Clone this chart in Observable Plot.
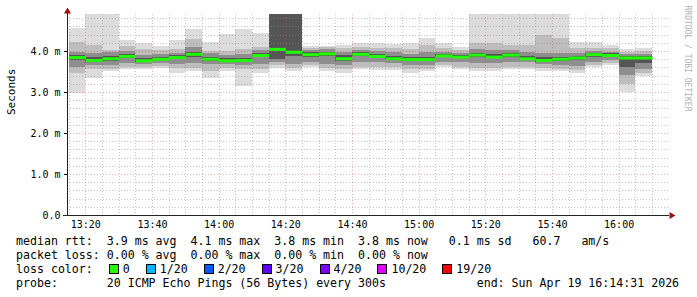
<!DOCTYPE html>
<html><head><meta charset="utf-8">
<script src="https://cdn.jsdelivr.net/npm/d3@7"></script>
<script src="https://cdn.jsdelivr.net/npm/@observablehq/plot@0.6"></script>
<style>
html,body{margin:0;padding:0;background:#fff;}
#wrap{position:relative;width:697px;height:297px;overflow:hidden;}
#chart{position:absolute;left:0;top:0;}
#legend{position:absolute;left:16px;top:234px;font-family:"DejaVu Sans Mono",monospace;font-size:11.6px;line-height:14px;white-space:pre;color:#000;}
.sq{display:inline-block;width:8px;height:8px;border:1px solid #000;vertical-align:-1px;margin-right:4px;}
.it{margin-right:16px;}
</style></head>
<body><div id="wrap"><div id="chart"></div><div id="legend"></div></div>
<script>
// ---- data (ms) ----
const barStart = ["13:15","13:20","13:25","13:30","13:35","13:40","13:45","13:50","13:55","14:00",
  "14:05","14:10","14:15","14:20","14:25","14:30","14:35","14:40","14:45","14:50",
  "14:55","15:00","15:05","15:10","15:15","15:20","15:25","15:30","15:35","15:40",
  "15:45","15:50","15:55","16:00","16:05"];
const rttMin = [2.97,3.33,3.52,3.55,3.55,3.58,3.47,3.51,3.35,3.50,3.15,3.46,3.58,3.52,3.60,3.51,3.47,3.55,3.54,3.54,3.47,3.50,3.60,3.56,3.51,3.51,3.55,3.55,3.51,3.51,3.47,3.62,3.66,3.01,3.40];
const rttP10 = [3.45,3.55,3.56,3.62,3.60,3.63,3.58,3.58,3.52,3.58,3.55,3.56,3.65,3.58,3.66,3.58,3.55,3.62,3.62,3.60,3.55,3.56,3.66,3.62,3.58,3.58,3.62,3.62,3.58,3.56,3.53,3.66,3.70,3.20,3.46];
const rttP25 = [3.62,3.65,3.66,3.70,3.68,3.70,3.68,3.70,3.67,3.68,3.66,3.68,3.74,3.68,3.74,3.68,3.66,3.72,3.72,3.70,3.66,3.66,3.74,3.72,3.70,3.70,3.72,3.72,3.68,3.66,3.64,3.74,3.78,3.41,3.56];
const rttP40 = [3.78,3.74,3.76,3.82,3.73,3.77,3.80,3.86,3.76,3.74,3.74,3.84,3.80,3.88,3.86,3.88,3.76,3.88,3.84,3.78,3.76,3.76,3.85,3.82,3.86,3.82,3.86,3.78,3.74,3.76,3.78,3.86,3.86,3.60,3.70];
const rttMedian = [3.85,3.78,3.82,3.88,3.77,3.81,3.85,3.93,3.81,3.77,3.78,3.90,4.05,3.98,3.92,3.94,3.82,3.93,3.88,3.82,3.80,3.80,3.89,3.86,3.91,3.86,3.91,3.82,3.78,3.81,3.84,3.92,3.90,3.84,3.84];
const rttP60 = [3.90,3.85,3.88,3.93,3.82,3.86,3.89,3.98,3.86,3.82,3.83,3.94,5.20,5.20,3.97,3.98,3.90,3.97,3.92,3.88,3.84,3.86,3.93,3.90,3.96,3.92,3.95,3.88,3.84,3.86,3.88,3.96,3.94,3.88,3.88];
const rttP75 = [3.98,3.95,3.97,4.00,3.90,3.92,3.96,4.10,3.94,3.90,3.92,4.02,5.20,5.20,4.02,4.04,3.98,4.03,3.99,3.97,3.92,3.97,3.98,3.96,4.05,4.02,4.02,3.98,3.96,3.96,3.95,4.00,3.98,3.92,3.93];
const rttP90 = [4.22,4.15,4.03,4.12,4.05,4.02,4.05,4.30,4.00,4.00,4.05,4.10,5.20,5.20,4.07,4.09,4.08,4.10,4.08,4.08,4.05,4.15,4.06,4.03,4.20,4.20,4.15,4.15,4.40,4.32,4.08,4.08,4.06,3.98,4.00];
const rttMax = [4.57,5.20,5.20,4.27,4.19,4.12,4.27,4.54,4.21,4.41,4.54,4.43,5.20,5.20,4.11,4.13,4.15,4.19,4.19,4.17,4.19,4.32,4.20,4.09,5.20,5.20,5.20,5.20,5.20,5.20,4.21,4.21,4.15,4.04,4.07];

const yTicks = [0, 1, 2, 3, 4];
const yMinorTicks = [0.2,0.4,0.6,0.8,1.2,1.4,1.6,1.8,2.2,2.4,2.6,2.8,3.2,3.4,3.6,3.8,4.2,4.4,4.6,4.8];
const xTickLabels = ["13:20","13:40","14:00","14:20","14:40","15:00","15:20","15:40","16:00"];
const xDomainLabels = ["13:14:31","16:14:31"];

const legendRtt = "median rtt:  3.9 ms avg  4.1 ms max  3.8 ms min  3.8 ms now   0.1 ms sd   60.7   am/s";
const legendLoss = "packet loss: 0.00 % avg  0.00 % max  0.00 % min  0.00 % now";
const lossTitle = "loss color:  ";
const lossLabels = ["0","1/20","2/20","3/20","4/20","10/20","19/20"];
const lossColors = ["#26ff00","#00b8ff","#0059ff","#5e00ff","#7e00ff","#dd00ff","#ff0000"];
const legendProbe = "probe:       20 ICMP Echo Pings (56 Bytes) every 300s             end: Sun Apr 19 16:14:31 2026";
const yTitle = "Seconds";
const sideText = "RRDTOOL / TOBI OETIKER";

// ---- build ----
const t = s => new Date("2026-04-19T" + (s.length === 5 ? s + ":00" : s) + "Z");
const rows = barStart.map((s, i) => ({
  start: t(s), end: d3.utcMinute.offset(t(s), 5),
  min: rttMin[i], p10: rttP10[i], p25: rttP25[i], p40: rttP40[i], med: rttMedian[i],
  p60: rttP60[i], p75: rttP75[i], p90: rttP90[i], max: rttMax[i]
}));
const xDomain = xDomainLabels.map(t);
const xTicks = xTickLabels.map(t);
const xMinor = d3.utcMinute.every(5).range(xDomain[0], xDomain[1]).filter(d => d.getUTCMinutes() % 20 !== 0);

const layer = (lo, hi, fill) => Plot.rect(rows, {x1: "start", x2: "end", y1: lo, y2: hi, fill, clip: true, shapeRendering: "crispEdges"});

const chart = Plot.plot({
  width: 697, height: 232,
  marginLeft: 67, marginRight: 30, marginTop: 14, marginBottom: 17,
  x: {type: "utc", domain: xDomain},
  y: {domain: [0, 4.9]},
  style: {fontFamily: "DejaVu Sans Mono, monospace", fontSize: "10px", background: "#fff", color: "#000", overflow: "visible"},
  marks: [
    layer("min", "max", "#dcdcdc"),
    layer("p10", "p90", "#bdbdbd"),
    layer("p25", "p75", "#8e8e8e"),
    layer("p40", "p60", "#555555"),
    Plot.ruleY(yMinorTicks, {stroke: "rgba(140,140,140,0.5)", strokeDasharray: "1,2", shapeRendering: "crispEdges", insetRight: -1}),
    Plot.ruleX(xMinor, {stroke: "rgba(140,140,140,0.5)", strokeDasharray: "1,2", shapeRendering: "crispEdges"}),
    Plot.ruleY(yTicks.filter(d => d > 0), {stroke: "rgba(225,90,90,0.5)", strokeDasharray: "1,2", shapeRendering: "crispEdges", insetRight: -1}),
    Plot.ruleX(xTicks, {stroke: "rgba(225,90,90,0.5)", strokeDasharray: "1,2", shapeRendering: "crispEdges", insetBottom: -3}),
    Plot.link(rows, {x1: "start", x2: "end", y1: "med", y2: "med", stroke: "#1eff00", strokeWidth: 3, clip: true}),
    Plot.axisY({ticks: yTicks, tickFormat: d => d === 0 ? "0.0" : d.toFixed(1) + " m", tickSize: 3, tickPadding: 4, label: null, fontSize: 10}),
    Plot.axisX({ticks: xTicks, tickFormat: d3.utcFormat("%H:%M"), tickSize: 0, tickPadding: 5, label: null, fontSize: 10}),
    Plot.ruleX([xDomain[0]], {stroke: "#222", insetTop: -2, insetBottom: 0}),
    Plot.ruleY([0], {stroke: "#222", insetLeft: -4, insetRight: -2}),
    Plot.dot([0], {frameAnchor: "top-left", symbol: "triangle", r: 2.6, fill: "#9b1010", stroke: "none", dy: -3}),
    Plot.dot([0], {frameAnchor: "bottom-right", symbol: "triangle", rotate: 90, r: 2.6, fill: "#9b1010", stroke: "none", dx: 4}),
    Plot.text([yTitle], {frameAnchor: "left", rotate: -90, dx: -56, fontSize: 11, fill: "#000"}),
    Plot.text([sideText], {frameAnchor: "top-right", rotate: 90, dx: 20, dy: -9, textAnchor: "start", lineAnchor: "middle", fontSize: 8, fill: "#b0b0b0"})
  ]
});
document.getElementById("chart").append(chart);

const lg = document.getElementById("legend");
const line = txt => { const d = document.createElement("div"); d.textContent = txt; lg.append(d); return d; };
line(legendRtt);
line(legendLoss);
const l3 = line(lossTitle);
lossLabels.forEach((lab, i) => {
  const sq = document.createElement("span"); sq.className = "sq"; sq.style.background = lossColors[i];
  const tx = document.createElement("span"); tx.className = "it"; tx.textContent = lab;
  if (i === 0) sq.style.marginLeft = "2px";
  l3.append(sq, tx);
});
line(legendProbe);
</script></body></html>
